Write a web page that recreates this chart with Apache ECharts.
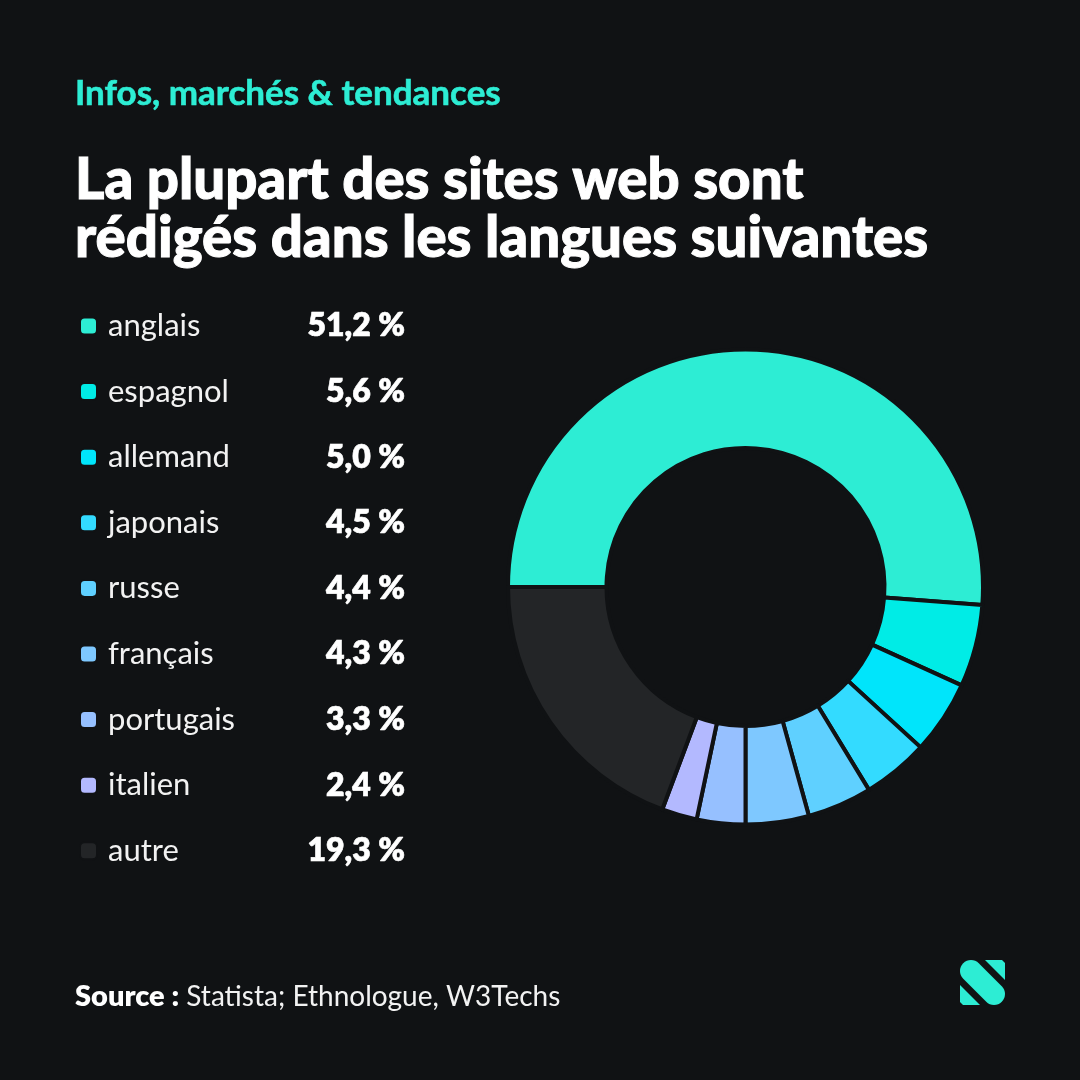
<!DOCTYPE html>
<html>
<head>
<meta charset="utf-8">
<style>
  html, body { margin: 0; padding: 0; background: #101214; }
  #chart { width: 1080px; height: 1080px; }
</style>
<script src="https://cdn.jsdelivr.net/npm/echarts@6/dist/echarts.min.js"></script>
</head>
<body>
<div id="chart"></div>
<script>
var languages = ["anglais", "espagnol", "allemand", "japonais", "russe", "français", "portugais", "italien", "autre"]
var shares = [51.2, 5.6, 5.0, 4.5, 4.4, 4.3, 3.3, 2.4, 19.3]
var shareLabels = ["51,2 %", "5,6 %", "5,0 %", "4,5 %", "4,4 %", "4,3 %", "3,3 %", "2,4 %", "19,3 %"]
var colors = ["#2DEDD4", "#00ECE6", "#00E5FB", "#33DBFF", "#5FD0FF", "#7EC8FF", "#96C0FF", "#B3B9FF", "#232527"]

var background = "#101214"
var accent = "#2DEDD4"
var font = "Lato, 'Noto Sans', sans-serif"

var chart = echarts.init(document.getElementById("chart"), null, { renderer: "canvas" })

var pieData = []
for (var i = 0; i < languages.length; i++) {
  pieData.push({ name: languages[i], value: shares[i], itemStyle: { color: colors[i] } })
}

chart.setOption({
  backgroundColor: background,
  animation: false,
  textStyle: { fontFamily: font },
  title: [
    {
      text: "Infos, marchés & tendances",
      left: 70, top: 71,
      textStyle: {
        color: accent, fontSize: 35, fontWeight: 700, fontFamily: font,
        textBorderColor: accent, textBorderWidth: 0.6
      }
    },
    {
      text: "La plupart des sites web sont\nrédigés dans les langues suivantes",
      left: 70, top: 147,
      textStyle: {
        color: "#ffffff", fontSize: 56.4, fontWeight: 900, lineHeight: 58, fontFamily: font,
        textBorderColor: "#ffffff", textBorderWidth: 1
      }
    }
  ],
  legend: {
    orient: "vertical",
    left: 74,
    top: 304,
    itemWidth: 17,
    itemHeight: 17,
    itemGap: 31.6,
    icon: "path://M4,0H11A4,4,0,0,1,15,4V11A4,4,0,0,1,11,15H4A4,4,0,0,1,0,11V4A4,4,0,0,1,4,0Z",
    selectedMode: false,
    data: languages,
    formatter: function (name) {
      return "{n|" + name + "}{v|" + shareLabels[languages.indexOf(name)] + "}"
    },
    textStyle: {
      lineHeight: 34,
      rich: {
        n: { color: "#f2f2f2", fontSize: 31, fontFamily: font, width: 170, padding: [0, 0, 0, 6] },
        v: {
          color: "#ffffff", fontSize: 32, fontWeight: 800, fontFamily: font, width: 127, align: "right",
          textBorderColor: "#ffffff", textBorderWidth: 0.6
        }
      }
    }
  },
  series: [
    {
      type: "pie",
      center: [745.5, 587],
      radius: [139, 237.5],
      startAngle: 180,
      silent: true,
      avoidLabelOverlap: false,
      label: { show: false },
      labelLine: { show: false },
      itemStyle: { borderColor: background, borderWidth: 4 },
      data: pieData
    }
  ],
  graphic: [
    {
      type: "text", left: 75, top: 982,
      style: {
        text: "{b|Source :} Statista; Ethnologue, W3Techs",
        fill: "#f2f2f2", font: "28px " + font,
        rich: { b: { fontWeight: 800, fontSize: 29, fontFamily: font, fill: "#ffffff" } }
      }
    },
    // logo
    {
      type: "polygon", silent: true,
      shape: { points: [[985, 960], [1002, 960], [1005, 963], [1005, 980]] },
      style: { fill: accent }
    },
    {
      type: "polygon", silent: true,
      shape: { points: [[960, 985], [980, 1005], [963, 1005], [960, 1002]] },
      style: { fill: accent }
    },
    {
      type: "line", silent: true,
      shape: { x1: 971, y1: 971, x2: 994, y2: 994 },
      style: { stroke: accent, lineWidth: 22, lineCap: "round" }
    }
  ]
})
</script>
</body>
</html>
